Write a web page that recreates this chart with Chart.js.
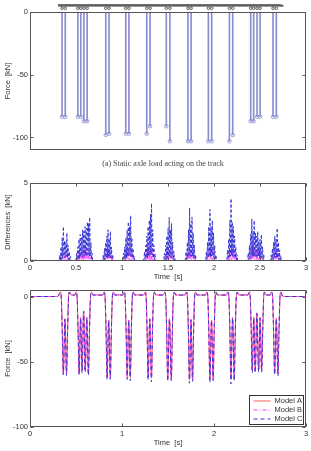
<!DOCTYPE html>
<html>
<head>
<meta charset="utf-8">
<script src="https://cdn.jsdelivr.net/npm/chart.js@4.4.0/dist/chart.umd.min.js"></script>
<style>
  html, body { margin: 0; padding: 0; background: #fff; }
  body { width: 311px; height: 451px; position: relative; overflow: hidden; }
  .panel { position: absolute; left: 0; }
  canvas { display: block; }
  #caption { position: absolute; left: 0; width: 326px; top: 159px; text-align: center;
             font: 8px "Liberation Serif", serif; color: #444; }
</style>
</head>
<body>
<div class="panel" style="top:0"><canvas id="topChart" width="311" height="160"></canvas></div>
<div id="caption">(a) Static axle load acting on the track</div>
<div class="panel" style="top:170px"><canvas id="midChart" width="311" height="115"></canvas></div>
<div class="panel" style="top:280px"><canvas id="botChart" width="311" height="171"></canvas></div>

<script>
// axle passage times [s] and static axle loads [kN]
const axleTime = [0.362, 0.397, 0.534, 0.566, 0.600, 0.635, 0.838, 0.873, 1.056, 1.090,
                  1.284, 1.320, 1.497, 1.536, 1.733, 1.767, 1.955, 1.991, 2.184, 2.220,
                  2.416, 2.448, 2.485, 2.518, 2.659, 2.695];
const staticLoad = [-83.5, -83.5, -83.5, -83.5, -87, -87, -98, -97, -97, -97,
                    -97, -91, -91, -103, -103, -103, -103, -103, -103, -98,
                    -87, -87, -83.5, -83.5, -83.5, -83.5];

// dynamic force at the sensor
const forceTime = [
  0, 0.28, 0.305,
  0.330, 0.339, 0.351, 0.362, 0.380, 0.397, 0.408, 0.420, 0.429, 0.445, 0.487,
  0.502, 0.511, 0.523, 0.534, 0.550, 0.566, 0.583, 0.600, 0.617, 0.635, 0.646, 0.658, 0.667, 0.685, 0.790,
  0.806, 0.815, 0.827, 0.838, 0.855, 0.873, 0.884, 0.896, 0.905, 0.921, 1.008,
  1.024, 1.033, 1.045, 1.056, 1.073, 1.090, 1.101, 1.113, 1.122, 1.138, 1.236,
  1.252, 1.261, 1.273, 1.284, 1.302, 1.320, 1.331, 1.343, 1.352, 1.368, 1.449,
  1.465, 1.474, 1.486, 1.497, 1.516, 1.536, 1.547, 1.559, 1.568, 1.584, 1.685,
  1.701, 1.710, 1.722, 1.733, 1.750, 1.767, 1.778, 1.790, 1.799, 1.815, 1.907,
  1.923, 1.932, 1.944, 1.955, 1.973, 1.991, 2.002, 2.014, 2.023, 2.039, 2.136,
  2.152, 2.161, 2.173, 2.184, 2.202, 2.220, 2.231, 2.243, 2.252, 2.268, 2.368,
  2.384, 2.393, 2.405, 2.416, 2.432, 2.448, 2.466, 2.485, 2.501, 2.518, 2.529, 2.541, 2.550, 2.566, 2.611,
  2.627, 2.636, 2.648, 2.659, 2.677, 2.695, 2.706, 2.718, 2.727, 2.745, 2.770, 3.0
];
const forceA = [
  0, 0, 0.3,
  3.5, 0.5, -28, -59, -17, -59, -28, 0.5, 3.5, 1.2, 1.2,
  3.5, 0.5, -28, -59, -16, -57, -11, -56.5, -16, -59, -28, 0.5, 3.5, 1.2, 1.2,
  3.5, 0.5, -28, -62, -18, -62, -28, 0.5, 3.5, 1.2, 1.2,
  3.5, 0.5, -28, -62, -18, -62, -28, 0.5, 3.5, 1.2, 1.2,
  3.5, 0.5, -28, -62, -17, -62, -28, 0.5, 3.5, 1.2, 1.2,
  3.5, 0.5, -28, -63, -17, -63, -28, 0.5, 3.5, 1.2, 1.2,
  3.5, 0.5, -28, -63.5, -17.5, -63.5, -28, 0.5, 3.5, 1.2, 1.2,
  3.5, 0.5, -28, -63, -18, -63, -28, 0.5, 3.5, 1.2, 1.2,
  3.5, 0.5, -28, -63, -16, -63, -28, 0.5, 3.5, 1.2, 1.2,
  3.5, 0.5, -28, -56.5, -16, -57, -12.5, -56.5, -16, -57, -28, 0.5, 3.5, 1.2, 1.2,
  3.5, 0.5, -28, -59, -16.5, -59, -28, 0.5, 3.5, 0.3, 0, 0
];
const forceB = [
  0, 0, 0.3,
  3.4, 0.5, -28, -59.5, -17, -59.5, -28, 0.5, 3.4, 1.2, 1.2,
  3.4, 0.5, -28, -59.5, -16, -57.5, -11, -57, -16, -59.5, -28, 0.5, 3.4, 1.2, 1.2,
  3.4, 0.5, -28, -62.5, -18, -62.5, -28, 0.5, 3.4, 1.2, 1.2,
  3.4, 0.5, -28, -62.5, -18, -62.5, -28, 0.5, 3.4, 1.2, 1.2,
  3.4, 0.5, -28, -62.5, -17, -63, -28, 0.5, 3.4, 1.2, 1.2,
  3.4, 0.5, -28, -63.5, -17, -63.5, -28, 0.5, 3.4, 1.2, 1.2,
  3.4, 0.5, -28, -64, -17.5, -64, -28, 0.5, 3.4, 1.2, 1.2,
  3.4, 0.5, -28, -63.5, -18, -63.5, -28, 0.5, 3.4, 1.2, 1.2,
  3.4, 0.5, -28, -63.5, -16, -63.5, -28, 0.5, 3.4, 1.2, 1.2,
  3.4, 0.5, -28, -57, -16, -57.5, -12.5, -57, -16, -57.5, -28, 0.5, 3.4, 1.2, 1.2,
  3.4, 0.5, -28, -59.5, -16.5, -59.5, -28, 0.5, 3.4, 0.3, 0, 0
];
const forceC = [
  0, 0, 0.3,
  3.2, 0.5, -27, -60, -17.5, -60.5, -27, 0.5, 3.2, 1.1, 1.1,
  3.2, 0.5, -27, -60, -16.5, -58.5, -11.5, -58, -16.5, -60.5, -27, 0.5, 3.2, 1.1, 1.1,
  3.2, 0.5, -27, -63.5, -18.5, -63.5, -27, 0.5, 3.2, 1.1, 1.1,
  3.2, 0.5, -27, -63.5, -18.5, -64.5, -27, 0.5, 3.2, 1.1, 1.1,
  3.2, 0.5, -27, -64, -17.5, -65.5, -27, 0.5, 3.2, 1.1, 1.1,
  3.2, 0.5, -27, -65, -17.5, -64.5, -27, 0.5, 3.2, 1.1, 1.1,
  3.2, 0.5, -27, -66.5, -18, -65, -27, 0.5, 3.2, 1.1, 1.1,
  3.2, 0.5, -27, -66, -18.5, -64.5, -27, 0.5, 3.2, 1.1, 1.1,
  3.2, 0.5, -27, -67, -16.5, -64.5, -27, 0.5, 3.2, 1.1, 1.1,
  3.2, 0.5, -27, -58.5, -16.5, -58.5, -13, -58, -16.5, -58, -27, 0.5, 3.2, 1.1, 1.1,
  3.2, 0.5, -27, -60, -17, -61, -27, 0.5, 3.2, 0.3, 0, 0
];

// differences to model A [s, kN]
const diffC = [
  [0, 0.02], [0.05, 0.08], [0.07, 0.02], [0.30, 0.02],
  [0.318, 0.1], [0.325, 0.4], [0.331, 0.05], [0.338, 0.9], [0.344, 0.1], [0.350, 1.5], [0.356, 0.2], [0.363, 2.2],
  [0.369, 0.3], [0.376, 1.3], [0.382, 0.2], [0.389, 1.2], [0.395, 0.3], [0.401, 1.8], [0.407, 0.2], [0.414, 1.0],
  [0.420, 0.1], [0.427, 0.6], [0.433, 0.05], [0.440, 0.3], [0.446, 0.02], [0.490, 0.03],
  [0.500, 0.1], [0.507, 0.5], [0.513, 0.1], [0.520, 0.9], [0.526, 0.1], [0.533, 1.4], [0.539, 0.2], [0.546, 1.7],
  [0.552, 0.3], [0.559, 1.5], [0.565, 0.2], [0.572, 2.0], [0.578, 0.3], [0.585, 1.9], [0.591, 0.3], [0.598, 2.2],
  [0.604, 0.4], [0.611, 2.1], [0.617, 0.3], [0.624, 2.5], [0.630, 0.4], [0.637, 2.4], [0.643, 0.3], [0.649, 2.8],
  [0.655, 0.3], [0.662, 1.2], [0.668, 0.1], [0.675, 0.5], [0.681, 0.05], [0.690, 0.02], [0.770, 0.03],
  [0.790, 0.1], [0.797, 0.4], [0.803, 0.05], [0.810, 0.8], [0.816, 0.1], [0.823, 1.2], [0.829, 0.2], [0.836, 1.6],
  [0.842, 0.2], [0.848, 2.0], [0.854, 0.3], [0.861, 1.4], [0.867, 0.2], [0.873, 1.9], [0.879, 0.2], [0.886, 0.9],
  [0.892, 0.1], [0.899, 0.4], [0.905, 0.02], [0.990, 0.03],
  [1.010, 0.1], [1.017, 0.5], [1.023, 0.1], [1.030, 0.9], [1.036, 0.1], [1.043, 1.5], [1.049, 0.2], [1.056, 2.0],
  [1.062, 0.3], [1.069, 2.5], [1.075, 0.3], [1.082, 2.2], [1.088, 0.4], [1.094, 2.9], [1.100, 0.3], [1.107, 1.5],
  [1.113, 0.2], [1.120, 0.8], [1.126, 0.1], [1.133, 0.3], [1.139, 0.02], [1.220, 0.03],
  [1.238, 0.1], [1.245, 0.6], [1.251, 0.1], [1.258, 1.0], [1.264, 0.2], [1.271, 1.6], [1.277, 0.2], [1.284, 2.2],
  [1.290, 0.3], [1.297, 2.6], [1.303, 0.3], [1.309, 3.0], [1.315, 0.4], [1.321, 3.7], [1.327, 0.4], [1.334, 2.0],
  [1.340, 0.2], [1.347, 1.0], [1.353, 0.1], [1.360, 0.4], [1.366, 0.02], [1.440, 0.03],
  [1.455, 0.1], [1.462, 0.5], [1.468, 0.1], [1.475, 1.0], [1.481, 0.1], [1.488, 1.6], [1.494, 0.2], [1.501, 2.1],
  [1.507, 0.3], [1.513, 2.8], [1.519, 0.3], [1.526, 2.0], [1.532, 0.2], [1.538, 2.4], [1.544, 0.3], [1.551, 1.2],
  [1.557, 0.1], [1.564, 0.6], [1.570, 0.05], [1.577, 0.2], [1.583, 0.02], [1.670, 0.03],
  [1.690, 0.1], [1.697, 0.6], [1.703, 0.1], [1.710, 1.2], [1.716, 0.2], [1.723, 2.0], [1.729, 0.3], [1.735, 3.4],
  [1.741, 0.3], [1.748, 2.4], [1.754, 0.3], [1.761, 2.8], [1.767, 0.3], [1.774, 1.8], [1.780, 0.2], [1.787, 1.0],
  [1.793, 0.1], [1.800, 0.4], [1.806, 0.02], [1.890, 0.03],
  [1.910, 0.1], [1.917, 0.6], [1.923, 0.1], [1.930, 1.2], [1.936, 0.2], [1.943, 2.2], [1.949, 0.3], [1.956, 3.3],
  [1.962, 0.3], [1.969, 2.2], [1.975, 0.3], [1.982, 2.6], [1.988, 0.3], [1.995, 1.8], [2.001, 0.2], [2.008, 1.0],
  [2.014, 0.1], [2.021, 0.4], [2.027, 0.02], [2.120, 0.03],
  [2.140, 0.1], [2.147, 0.7], [2.153, 0.1], [2.160, 1.4], [2.166, 0.2], [2.173, 2.6], [2.179, 0.3], [2.185, 4.0],
  [2.191, 0.4], [2.198, 2.5], [2.204, 0.3], [2.211, 2.2], [2.217, 0.3], [2.224, 1.6], [2.230, 0.2], [2.237, 0.9],
  [2.243, 0.1], [2.250, 0.4], [2.256, 0.02], [2.350, 0.03],
  [2.365, 0.1], [2.372, 0.5], [2.378, 0.1], [2.385, 1.0], [2.391, 0.2], [2.398, 1.7], [2.404, 0.3], [2.411, 2.7],
  [2.417, 0.3], [2.424, 1.9], [2.430, 0.3], [2.437, 2.6], [2.443, 0.3], [2.450, 1.8], [2.456, 0.3], [2.463, 1.6],
  [2.469, 0.2], [2.476, 1.9], [2.482, 0.3], [2.489, 1.3], [2.495, 0.2], [2.502, 1.4], [2.508, 0.2], [2.515, 1.7],
  [2.521, 0.2], [2.528, 0.9], [2.534, 0.1], [2.541, 0.4], [2.547, 0.02], [2.600, 0.03],
  [2.615, 0.1], [2.622, 0.4], [2.628, 0.05], [2.635, 0.8], [2.641, 0.1], [2.648, 1.2], [2.654, 0.2], [2.661, 1.6],
  [2.667, 0.2], [2.674, 1.4], [2.680, 0.2], [2.687, 2.1], [2.693, 0.2], [2.700, 1.2], [2.706, 0.1], [2.713, 0.7],
  [2.719, 0.05], [2.726, 0.3], [2.732, 0.02], [2.800, 0.02], [3.0, 0.02]
];
const diffB = [
  [0, 0.01], [0.31, 0.01],
  [0.335, 0.2], [0.342, 0.05], [0.350, 0.5], [0.357, 0.1], [0.364, 0.7], [0.371, 0.1], [0.378, 0.4], [0.385, 0.05],
  [0.392, 0.6], [0.399, 0.1], [0.406, 0.5], [0.413, 0.05], [0.420, 0.2], [0.430, 0.01],
  [0.510, 0.02], [0.517, 0.3], [0.524, 0.05], [0.531, 0.6], [0.538, 0.1], [0.545, 0.5], [0.552, 0.1], [0.559, 0.8],
  [0.566, 0.1], [0.573, 0.6], [0.580, 0.1], [0.587, 0.9], [0.594, 0.1], [0.601, 0.7], [0.608, 0.1], [0.615, 0.8],
  [0.622, 0.1], [0.629, 0.6], [0.636, 0.1], [0.643, 0.7], [0.650, 0.05], [0.657, 0.3], [0.667, 0.01],
  [0.800, 0.02], [0.807, 0.2], [0.814, 0.05], [0.821, 0.5], [0.828, 0.1], [0.835, 0.8], [0.842, 0.1], [0.849, 0.6],
  [0.856, 0.1], [0.863, 0.7], [0.870, 0.1], [0.877, 0.5], [0.884, 0.05], [0.891, 0.2], [0.900, 0.01],
  [1.020, 0.02], [1.027, 0.3], [1.034, 0.05], [1.041, 0.6], [1.048, 0.1], [1.055, 0.9], [1.062, 0.1], [1.069, 0.7],
  [1.076, 0.1], [1.083, 1.0], [1.090, 0.1], [1.097, 0.6], [1.104, 0.05], [1.111, 0.3], [1.120, 0.01],
  [1.250, 0.02], [1.257, 0.3], [1.264, 0.05], [1.271, 0.7], [1.278, 0.1], [1.285, 1.0], [1.292, 0.1], [1.299, 0.8],
  [1.306, 0.1], [1.313, 1.2], [1.320, 0.1], [1.327, 0.7], [1.334, 0.05], [1.341, 0.3], [1.350, 0.01],
  [1.465, 0.02], [1.472, 0.3], [1.479, 0.05], [1.486, 0.6], [1.493, 0.1], [1.500, 0.9], [1.507, 0.1], [1.514, 0.7],
  [1.521, 0.1], [1.528, 0.9], [1.535, 0.1], [1.542, 0.5], [1.549, 0.05], [1.556, 0.2], [1.565, 0.01],
  [1.700, 0.02], [1.707, 0.3], [1.714, 0.05], [1.721, 0.6], [1.728, 0.1], [1.735, 1.0], [1.742, 0.1], [1.749, 0.7],
  [1.756, 0.1], [1.763, 0.9], [1.770, 0.1], [1.777, 0.5], [1.784, 0.05], [1.791, 0.2], [1.800, 0.01],
  [1.920, 0.02], [1.927, 0.3], [1.934, 0.05], [1.941, 0.6], [1.948, 0.1], [1.955, 0.9], [1.962, 0.1], [1.969, 0.7],
  [1.976, 0.1], [1.983, 0.9], [1.990, 0.1], [1.997, 0.5], [2.004, 0.05], [2.011, 0.2], [2.020, 0.01],
  [2.150, 0.02], [2.157, 0.3], [2.164, 0.05], [2.171, 0.7], [2.178, 0.1], [2.185, 1.0], [2.192, 0.1], [2.199, 0.8],
  [2.206, 0.1], [2.213, 0.9], [2.220, 0.1], [2.227, 0.5], [2.234, 0.05], [2.241, 0.2], [2.250, 0.01],
  [2.380, 0.02], [2.387, 0.3], [2.394, 0.05], [2.401, 0.7], [2.408, 0.1], [2.415, 1.0], [2.422, 0.1], [2.429, 0.8],
  [2.436, 0.1], [2.443, 0.9], [2.450, 0.1], [2.457, 0.7], [2.464, 0.1], [2.471, 0.9], [2.478, 0.1], [2.485, 0.6],
  [2.492, 0.1], [2.499, 0.8], [2.506, 0.1], [2.513, 0.5], [2.520, 0.05], [2.527, 0.2], [2.537, 0.01],
  [2.630, 0.02], [2.637, 0.2], [2.644, 0.05], [2.651, 0.5], [2.658, 0.1], [2.665, 0.7], [2.672, 0.1], [2.679, 0.6],
  [2.686, 0.1], [2.693, 0.8], [2.700, 0.1], [2.707, 0.4], [2.714, 0.05], [2.721, 0.2], [2.730, 0.01], [3.0, 0.01]
];

// tick labels
const forceTicks = [-100, -50, 0];
const diffTicks = [0, 5];
const timeTicksMid = [0, 0.5, 1, 1.5, 2, 2.5, 3];
const timeTicksBot = [0, 1, 2, 3];

const seriesNames = ['Model A', 'Model B', 'Model C'];
const colA = '#ff5c5c', colB = '#ff3cff', colC = '#3636d4', stemCol = '#8a8dcf';

Chart.defaults.font.family = "'Liberation Sans', Arial, sans-serif";
Chart.defaults.font.size = 7.5;
Chart.defaults.color = '#333';
Chart.defaults.animation = false;

function yAxis(min, max, tickVals, title) {
  return {
    min: min, max: max,
    afterFit: s => { s.width = 30; },
    afterBuildTicks: s => { s.ticks = tickVals.map(v => ({ value: v })); },
    grid: { display: false, drawTicks: false },
    border: { display: false },
    ticks: { padding: 2, autoSkip: false, callback: v => String(v) },
    title: { display: true, text: title, padding: { top: 3, bottom: 0 } }
  };
}
function xAxis(tickVals) {
  return {
    type: 'linear', min: 0, max: 3, offset: false,
    afterFit: s => { s.height = 24; },
    afterBuildTicks: s => { s.ticks = tickVals.map(v => ({ value: v })); },
    grid: { display: false, drawTicks: false },
    border: { display: false },
    ticks: { padding: 2.5, autoSkip: false, maxRotation: 0, callback: v => String(v) },
    title: { display: true, text: 'Time  [s]', padding: { top: 0, bottom: 3.5 } }
  };
}

// box round the axes with small inward ticks, MATLAB style
function framePlugin(withXTicks) {
  return {
    id: 'frame',
    afterDraw(chart) {
      const { ctx, chartArea: a, scales } = chart;
      const L = Math.round(a.left) + 0.5, R = Math.round(a.right) - 0.5;
      const T = Math.round(a.top) + 0.5, B = Math.round(a.bottom) - 0.5;
      ctx.save();
      ctx.strokeStyle = '#555';
      ctx.lineWidth = 1;
      ctx.strokeRect(L, T, R - L, B - T);
      ctx.beginPath();
      if (withXTicks) {
        scales.x.ticks.forEach(t => {
          const p = Math.round(scales.x.getPixelForValue(t.value)) + 0.5;
          ctx.moveTo(p, B); ctx.lineTo(p, B - 3);
          ctx.moveTo(p, T); ctx.lineTo(p, T + 3);
        });
      }
      scales.y.ticks.forEach(t => {
        const p = Math.round(scales.y.getPixelForValue(t.value)) + 0.5;
        ctx.moveTo(L, p); ctx.lineTo(L + 3, p);
        ctx.moveTo(R, p); ctx.lineTo(R - 3, p);
      });
      ctx.stroke();
      ctx.restore();
    }
  };
}

// little train sketch above the static load plot
const trainPlugin = {
  id: 'train',
  afterDraw(chart) {
    const { ctx, scales } = chart;
    const xs = axleTime.map(t => scales.x.getPixelForValue(t));
    const x0 = xs[0] - 4, x1 = xs[xs.length - 1] + 4;
    ctx.save();
    ctx.fillStyle = '#9a9a9a';
    ctx.fillRect(x0, 4, x1 - x0, 3);
    ctx.fillStyle = '#444';
    ctx.fillRect(x0, 4.5, x1 - x0, 1.2);
    ctx.beginPath();
    ctx.moveTo(x1, 4); ctx.lineTo(x1 + 4, 6); ctx.lineTo(x1, 7); ctx.closePath();
    ctx.fill();
    ctx.strokeStyle = '#333';
    ctx.lineWidth = 0.8;
    xs.forEach(x => {
      ctx.beginPath();
      ctx.arc(x, 8.2, 1.3, 0, Math.PI * 2);
      ctx.stroke();
    });
    ctx.restore();
  }
};

// legend box in the lower right corner of the force plot
const legendPlugin = {
  id: 'boxLegend',
  afterDraw(chart) {
    const { ctx, chartArea: a } = chart;
    const w = 54, h = 29;
    const x0 = Math.round(a.right - 3 - w) + 0.5, y0 = Math.round(a.bottom - 3 - h) + 0.5;
    ctx.save();
    ctx.fillStyle = '#fff';
    ctx.fillRect(x0, y0, w, h);
    ctx.strokeStyle = '#333';
    ctx.lineWidth = 1;
    ctx.strokeRect(x0, y0, w, h);
    ctx.font = "7.5px 'Liberation Sans', Arial, sans-serif";
    ctx.textBaseline = 'middle';
    chart.data.datasets.forEach((ds, i) => {
      const y = y0 + 5.5 + i * 9;
      ctx.strokeStyle = ds.borderColor;
      ctx.setLineDash(ds.borderDash || []);
      ctx.beginPath();
      ctx.moveTo(x0 + 4, y); ctx.lineTo(x0 + 21, y);
      ctx.stroke();
      ctx.setLineDash([]);
      ctx.fillStyle = '#333';
      ctx.fillText(ds.label, x0 + 25, y);
    });
    ctx.restore();
  }
};

const stemPoints = axleTime.map((t, i) => ({ x: t, y: staticLoad[i] }));

new Chart(document.getElementById('topChart'), {
  type: 'scatter',
  data: {
    datasets: [
      { type: 'bar', data: stemPoints, backgroundColor: stemCol, barThickness: 1, borderWidth: 0 },
      { type: 'scatter', data: stemPoints, pointStyle: 'circle', pointRadius: 1.8,
        pointBorderWidth: 0.8, borderColor: stemCol, backgroundColor: 'rgba(0,0,0,0)' }
    ]
  },
  options: {
    responsive: false,
    layout: { padding: { top: 12, right: 3, bottom: 10, left: 0 } },
    plugins: { legend: { display: false }, tooltip: { enabled: false } },
    scales: {
      x: { type: 'linear', min: 0.013, max: 3.02, offset: false, display: false },
      y: yAxis(-110, 0, forceTicks, 'Force  [kN]')
    }
  },
  plugins: [framePlugin(false), trainPlugin]
});

new Chart(document.getElementById('midChart'), {
  type: 'line',
  data: {
    datasets: [
      { label: 'Model B', data: diffB, borderColor: colB, borderWidth: 1, borderDash: [3, 2, 1, 2],
        pointRadius: 0, tension: 0, order: 2 },
      { label: 'Model C', data: diffC, borderColor: colC, borderWidth: 1, borderDash: [3, 2],
        pointRadius: 0, tension: 0, order: 1 }
    ]
  },
  options: {
    responsive: false,
    layout: { padding: { top: 13, right: 5, bottom: 0, left: 0 } },
    plugins: { legend: { display: false }, tooltip: { enabled: false } },
    scales: {
      x: xAxis(timeTicksMid),
      y: yAxis(0, 5, diffTicks, 'Differences  [kN]')
    }
  },
  plugins: [framePlugin(true)]
});

const toPts = vals => forceTime.map((t, i) => ({ x: t, y: vals[i] }));

new Chart(document.getElementById('botChart'), {
  type: 'line',
  data: {
    datasets: [
      { label: seriesNames[0], data: toPts(forceA), borderColor: colA, borderWidth: 1,
        pointRadius: 0, cubicInterpolationMode: 'monotone', order: 3 },
      { label: seriesNames[1], data: toPts(forceB), borderColor: colB, borderWidth: 1, borderDash: [4, 2, 1, 2],
        pointRadius: 0, cubicInterpolationMode: 'monotone', order: 2 },
      { label: seriesNames[2], data: toPts(forceC), borderColor: colC, borderWidth: 1, borderDash: [4, 3],
        pointRadius: 0, cubicInterpolationMode: 'monotone', order: 1 }
    ]
  },
  options: {
    responsive: false,
    layout: { padding: { top: 10, right: 5, bottom: 0, left: 0 } },
    plugins: { legend: { display: false }, tooltip: { enabled: false } },
    scales: {
      x: xAxis(timeTicksBot),
      y: yAxis(-100, 5, forceTicks, 'Force  [kN]')
    }
  },
  plugins: [framePlugin(true), legendPlugin]
});
</script>
</body>
</html>
